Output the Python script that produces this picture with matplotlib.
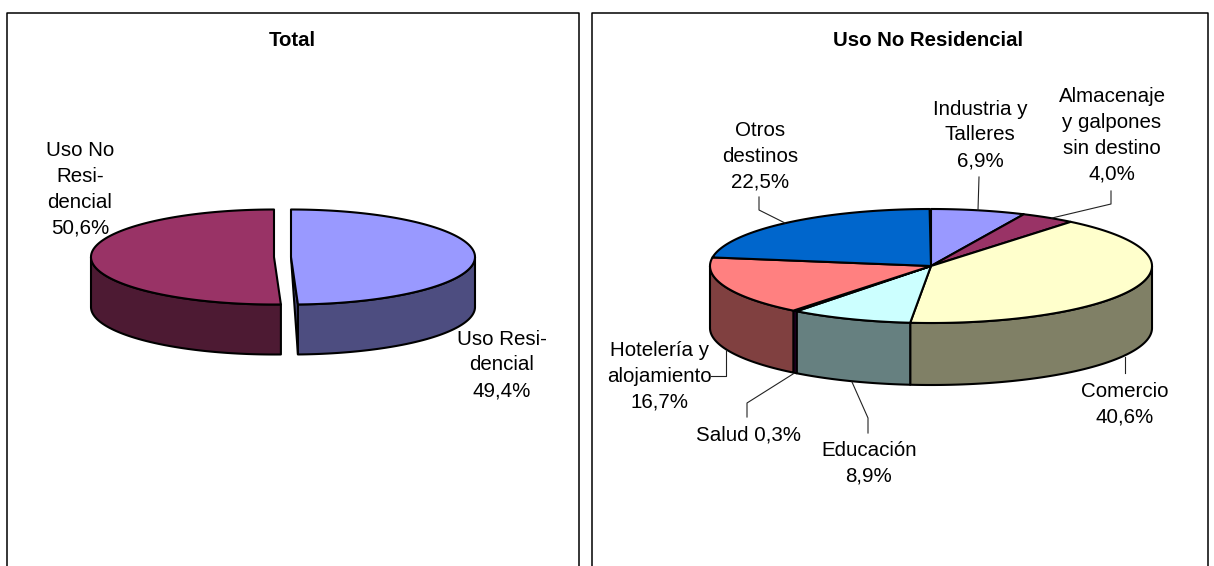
import numpy as np
import matplotlib
matplotlib.use("Agg")
import matplotlib.pyplot as plt
from matplotlib.patches import Polygon

plt.rcParams['font.family'] = ['Liberation Sans', 'DejaVu Sans']

# Data
total_labels = ["Uso Resi-\ndencial", "Uso No\nResi-\ndencial"]
total_values = [49.4, 50.6]
total_colors = ["#9999FF", "#993366"]

uso_labels = ["Industria y\nTalleres", "Almacenaje\ny galpones\nsin destino", "Comercio",
              "Educación", "Salud", "Hotelería y\nalojamiento", "Otros\ndestinos"]
uso_values = [6.9, 4.0, 40.6, 8.9, 0.3, 16.7, 22.5]
uso_colors = ["#9999FF", "#993366", "#FFFFCC", "#CCFFFF", "#660066", "#FF8080", "#0066CC"]


def pct(label, value, sep="\n"):
    return f"{label}{sep}{value:.1f}%".replace(".", ",")


def darken(color):
    return tuple(c * 0.5 for c in matplotlib.colors.to_rgb(color))


def arc(cx, cy, rx, ry, a0, a1):
    # angles clockwise from the top of the pie, in degrees
    t = np.radians(np.linspace(a0, a1, max(int(abs(a1 - a0)) * 2, 2)))
    return np.column_stack([cx + rx * np.sin(t), cy - ry * np.cos(t)])


def slice3d(ax, cx, cy, rx, ry, depth, a0, a1, color):
    # front wall only where the rim faces the viewer
    lo, hi = max(a0, 90), min(a1, 270)
    if hi > lo:
        rim = arc(cx, cy, rx, ry, lo, hi)
        wall = np.vstack([rim, rim[::-1] + [0, depth]])
        ax.add_patch(Polygon(wall, fc=darken(color), ec="black", lw=1.5, joinstyle="round", zorder=2))
    top = np.vstack([[cx, cy], arc(cx, cy, rx, ry, a0, a1)])
    ax.add_patch(Polygon(top, fc=color, ec="black", lw=1.5, joinstyle="round", zorder=3))


fig = plt.figure(figsize=(12.14, 5.66), dpi=100)
ax = fig.add_axes([0, 0, 1, 1])
ax.set_xlim(0, 1214)
ax.set_ylim(566, 0)
ax.axis('off')

# panel frames, open at the bottom
for x0, x1 in [(7, 579), (592, 1208)]:
    ax.plot([x0, x0, x1, x1], [570, 13, 13, 570], color="black", lw=1.1, zorder=1)

text_kwargs = dict(fontsize=14.8, ha="center", va="center", linespacing=1.45, color="black", zorder=6)
ax.text(292.5, 40, "Total", fontsize=14.7, fontweight="bold", ha="center", va="center")
ax.text(928.5, 40, "Uso No Residencial", fontsize=14.7, fontweight="bold", ha="center", va="center")

# Left pie, two exploded slices
angles = np.cumsum([0] + total_values) * 3.6
end_point = arc(291, 257, 184, 47.5, angles[1], angles[1])[0]
ax.add_patch(Polygon([[291, 257], end_point, end_point + [0, 50]],
                     fc=darken(total_colors[0]), ec="black", lw=1.5, zorder=1.5))
slice3d(ax, 291, 257, 184, 47.5, 50, angles[0], angles[1], total_colors[0])
slice3d(ax, 274, 257, 183, 47.5, 50, angles[1], angles[2], total_colors[1])
ax.text(502, 365, pct(total_labels[0], total_values[0]), **text_kwargs)
ax.text(80, 189.5, pct(total_labels[1], total_values[1]), **text_kwargs)

# Right pie
angles = np.cumsum([0] + uso_values) * 3.6
for i, color in enumerate(uso_colors):
    slice3d(ax, 931, 266, 221, 57, 62, angles[i], angles[i + 1], color)

leaders = [
    ([979, 978], [177, 210]),
    ([1111, 1111, 1052], [191, 204, 218]),
    ([1125, 1125], [357, 373]),
    ([852, 868, 868], [382, 418, 433]),
    ([793, 747, 747], [374, 403, 417]),
    ([726, 726, 711], [350, 376, 376]),
    ([759, 759, 785], [197, 210, 223]),
]
for xs, ys in leaders:
    ax.plot(xs, ys, color="#222222", lw=0.8, zorder=5)

ax.text(980, 135, pct(uso_labels[0], uso_values[0]), **text_kwargs)
ax.text(1112, 135.5, pct(uso_labels[1], uso_values[1]), **text_kwargs)
ax.text(1125, 404, pct(uso_labels[2], uso_values[2]), **text_kwargs)
ax.text(869, 463, pct(uso_labels[3], uso_values[3]), **text_kwargs)
ax.text(748, 435, pct(uso_labels[4], uso_values[4], " "), **text_kwargs)
ax.text(659, 376.5, pct(uso_labels[5], uso_values[5]), **text_kwargs)
ax.text(760, 156, pct(uso_labels[6], uso_values[6]), **text_kwargs)

fig.savefig("out.png", dpi=100)
